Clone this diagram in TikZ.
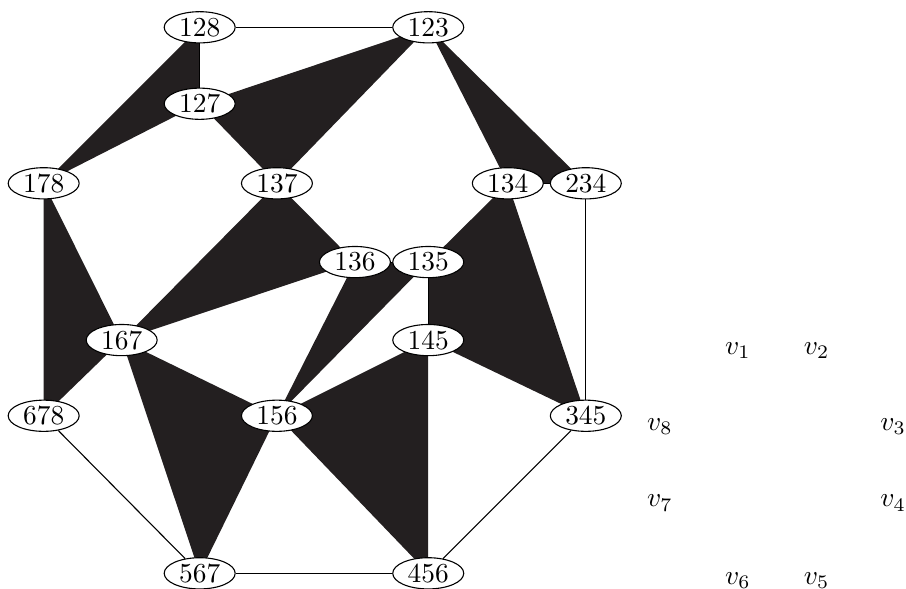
\documentclass[tikz,border=0pt]{standalone}
\usepackage{amsmath,amssymb}
\usepackage{xcolor}
\usepackage{tikz}
\usetikzlibrary{shapes.geometric,backgrounds}

\definecolor{facecol}{RGB}{35,31,32}

\begin{document}
\begin{tikzpicture}[
  vert/.style={ellipse,draw,fill=white,inner sep=0pt,minimum width=0.91cm,minimum height=0.4cm},
  face/.style={fill=facecol}
]

  \useasboundingbox (0,0) rectangle (11.615,-7.551);

  % the vertices of the complex
  \foreach \n/\x/\y in {128/2.56/-0.35, 123/5.49/-0.35, 127/2.56/-1.33,
      178/0.56/-2.35, 137/3.55/-2.35, 134/6.51/-2.35, 234/7.51/-2.35,
      136/4.55/-3.36, 135/5.49/-3.36, 167/1.56/-4.36, 145/5.49/-4.36,
      678/0.56/-5.33, 156/3.55/-5.33, 345/7.51/-5.33,
      567/2.56/-7.35, 456/5.49/-7.35}
    \node[vert] (n\n) at (\x,\y) {\n};

  \begin{scope}[on background layer]
    % filled triangles
    \fill[face] (n128.center) -- (n127.center) -- (n178.center) -- cycle;
    \fill[face] (n127.center) -- (n123.center) -- (n137.center) -- cycle;
    \fill[face] (n123.center) -- (n134.center) -- (n234.center) -- cycle;
    \fill[face] (n137.center) -- (n136.center) -- (n167.center) -- cycle;
    \fill[face] (n178.center) -- (n167.center) -- (n678.center) -- cycle;
    \fill[face] (n136.center) -- (n135.center) -- (n156.center) -- cycle;
    \fill[face] (n135.center) -- (n134.center) -- (n345.center) -- (n145.center) -- cycle;
    \fill[face] (n167.center) -- (n156.center) -- (n567.center) -- cycle;
    \fill[face] (n156.center) -- (n145.center) -- (n456.center) -- cycle;

    % edges
    \draw (n128) -- (n123);
    \draw (n128) -- (n127);
    \draw (n134) -- (n234);
    \draw (n234) -- (n345);
    \draw (n136) -- (n135);
    \draw (n135) -- (n145);
    \draw (n678) -- (n567);
    \draw (n567) -- (n456);
    \draw (n456) -- (n345);
  \end{scope}

  % the octagon labels
  \foreach \i/\x/\y in {1/9.46/-4.49, 2/10.47/-4.49, 3/11.45/-5.47, 4/11.45/-6.45,
      5/10.47/-7.44, 6/9.46/-7.44, 7/8.46/-6.45, 8/8.46/-5.47}
    \node (v\i) at (\x,\y) {$v_{\i}$};

\end{tikzpicture}
\end{document}
